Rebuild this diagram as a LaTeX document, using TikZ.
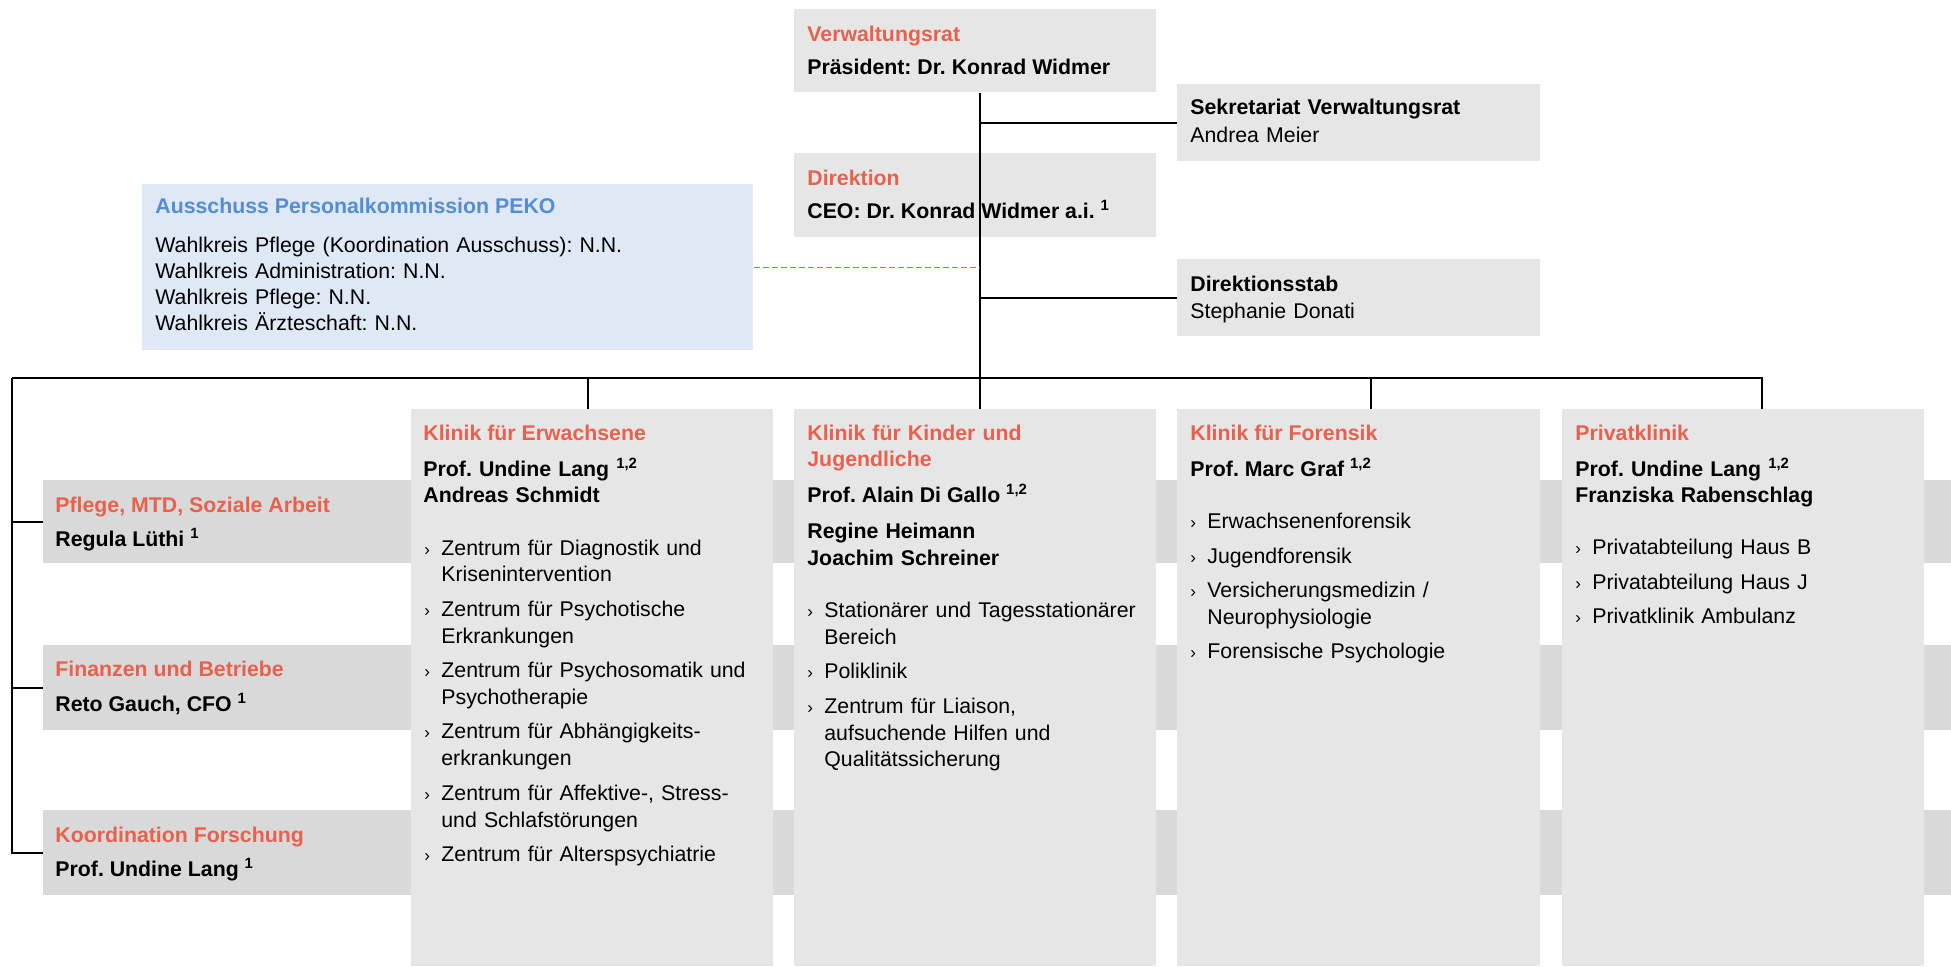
\documentclass[tikz,border=0pt]{standalone}
\usepackage{fontspec}
\setmainfont{Liberation Sans}
\definecolor{boxgray}{RGB}{230,230,230}
\definecolor{bandgray}{RGB}{217,217,217}
\definecolor{titlered}{RGB}{232,97,77}
\definecolor{pekoblue}{RGB}{84,141,212}
\definecolor{pekofill}{RGB}{223,233,245}
\newcommand{\fsz}{\fontsize{10.65pt}{13.4pt}\selectfont}
\newcommand{\bul}{\makebox[8.5pt][l]{\fontsize{8.5pt}{8.5pt}\selectfont ›}}
\newcommand{\hind}{\hspace*{8.5pt}}
\newcommand{\igap}{3.85pt}
\frenchspacing
\tikzset{
    box/.style 2 args={fill=boxgray,anchor=north west,inner sep=0pt,minimum width=#1*0.5pt,minimum height=#2*0.5pt},
    txt/.style={anchor=base west,inner sep=0pt,align=left,font=\fsz},
    hd/.style={txt,font=\fsz\bfseries,text=titlered},
    nm/.style={txt,font=\fsz\bfseries},
    wide/.style={text width=180pt},
    conn/.style={draw=black,line width=0.6pt},
    dashline/.style={draw=pekoblue,line width=0.8pt,dash pattern=on 3pt off 1.5pt}
}
\begin{document}
\begin{tikzpicture}[x=0.5pt,y=-0.5pt]
    \useasboundingbox (0,0) rectangle (1951,966);

    \node[box={362}{83}] (vr) at (794,9) {};
    \node[box={363}{77}] (sek) at (1177,84) {};
    \node[box={362}{84}] (dir) at (794,153) {};
    \node[box={363}{77}] (stab) at (1177,259) {};
    \node[box={611}{166},fill=pekofill] (peko) at (142,184) {};

    \node[box={1908}{83},fill=bandgray] (pf) at (43,480) {};
    \node[box={1908}{85},fill=bandgray] (fi) at (43,645) {};
    \node[box={1908}{85},fill=bandgray] (ko) at (43,810) {};

    \node[box={362}{557}] (ew) at (411,409) {};
    \node[box={362}{557}] (kj) at (794,409) {};
    \node[box={363}{557}] (fo) at (1177,409) {};
    \node[box={362}{557}] (pk) at (1562,409) {};

    \node[hd] (vr-t) at (807,41) {Verwaltungsrat};
    \node[nm] (vr-n) at (807,74) {Präsident: Dr. Konrad Widmer};
    \node[txt,wide] (sek-t) at (1190,114) {\textbf{Sekretariat Verwaltungsrat}\\[0.6pt]Andrea Meier};
    \node[hd] (dir-t) at (807,185) {Direktion};
    \node[nm] (dir-n) at (807,218) {CEO: Dr. Konrad Widmer a.i. \textsuperscript{1}};
    \node[txt,wide] (stab-t) at (1190,291) {\textbf{Direktionsstab}\\[0.35pt]Stephanie Donati};
    \node[hd,text=pekoblue] (peko-t) at (155,213) {Ausschuss Personalkommission PEKO};
    \node[txt,text width=290pt,font=\fontsize{10.65pt}{13pt}\selectfont] (peko-l) at (155,252) {Wahlkreis Pflege (Koordination Ausschuss): N.N.\\Wahlkreis Administration: N.N.\\Wahlkreis Pflege: N.N.\\Wahlkreis Ärzteschaft: N.N.};

    \node[hd] (pf-t) at (55,512) {Pflege, MTD, Soziale Arbeit};
    \node[nm] (pf-n) at (55,546) {Regula Lüthi \textsuperscript{1}};
    \node[hd] (fi-t) at (55,676) {Finanzen und Betriebe};
    \node[nm] (fi-n) at (55,711) {Reto Gauch, CFO \textsuperscript{1}};
    \node[hd] (ko-t) at (55,842) {Koordination Forschung};
    \node[nm] (ko-n) at (55,876) {Prof. Undine Lang \textsuperscript{1}};

    \node[hd] (ew-t) at (423,440) {Klinik für Erwachsene};
    \node[nm,wide] (ew-n) at (423,476) {Prof. Undine Lang \textsuperscript{1,2}\\Andreas Schmidt};
    \node[txt,wide] (ew-l) at (424,555) {\bul Zentrum für Diagnostik und\\\hind Krisenintervention\\[\igap]\bul Zentrum für Psychotische\\\hind Erkrankungen\\[\igap]\bul Zentrum für Psychosomatik und\\\hind Psychotherapie\\[\igap]\bul Zentrum für Abhängigkeits-\\\hind erkrankungen\\[\igap]\bul Zentrum für Affektive-, Stress-\\\hind und Schlafstörungen\\[\igap]\bul Zentrum für Alterspsychiatrie};

    \node[hd,wide] (kj-t) at (807,440) {Klinik für Kinder und\\Jugendliche};
    \node[nm] (kj-n) at (807,502.5) {Prof. Alain Di Gallo \textsuperscript{1,2}};
    \node[nm,wide] (kj-m) at (807,538.5) {Regine Heimann\\Joachim Schreiner};
    \node[txt,wide] (kj-l) at (807,617.5) {\bul Stationärer und Tagesstationärer\\\hind Bereich\\[\igap]\bul Poliklinik\\[\igap]\bul Zentrum für Liaison,\\\hind aufsuchende Hilfen und\\\hind Qualitätssicherung};

    \node[hd] (fo-t) at (1190,440) {Klinik für Forensik};
    \node[nm] (fo-n) at (1190,476) {Prof. Marc Graf \textsuperscript{1,2}};
    \node[txt,wide] (fo-l) at (1190,528.6) {\bul Erwachsenenforensik\\[\igap]\bul Jugendforensik\\[\igap]\bul Versicherungsmedizin /\\\hind Neurophysiologie\\[\igap]\bul Forensische Psychologie};

    \node[hd] (pk-t) at (1575,440) {Privatklinik};
    \node[nm,wide] (pk-n) at (1575,476) {Prof. Undine Lang \textsuperscript{1,2}\\Franziska Rabenschlag};
    \node[txt,wide] (pk-l) at (1575,554.6) {\bul Privatabteilung Haus B\\[\igap]\bul Privatabteilung Haus J\\[\igap]\bul Privatklinik Ambulanz};

    \coordinate (t0) at (980,378);
    \coordinate (bl) at (12,378);
    \coordinate (bew) at (588,378);
    \coordinate (bfo) at (1371,378);
    \coordinate (bpk) at (1762,378);

    \draw [conn] (vr.south -| t0)--(kj.north -| t0);
    \draw [conn] (t0 |- sek.west)--(sek.west);
    \draw [conn] (t0 |- stab.west)--(stab.west);
    \draw [dashline] (peko.east)--(peko.east -| t0);
    \draw [conn] (bl)--(bpk)--(bpk |- pk.north);
    \draw [conn] (bew)--(bew |- ew.north);
    \draw [conn] (bfo)--(bfo |- fo.north);
    \draw [conn] (bl) |- (ko.west);
    \draw [conn] (bl |- pf.west)--(pf.west);
    \draw [conn] (bl |- fi.west)--(fi.west);
\end{tikzpicture}
\end{document}
